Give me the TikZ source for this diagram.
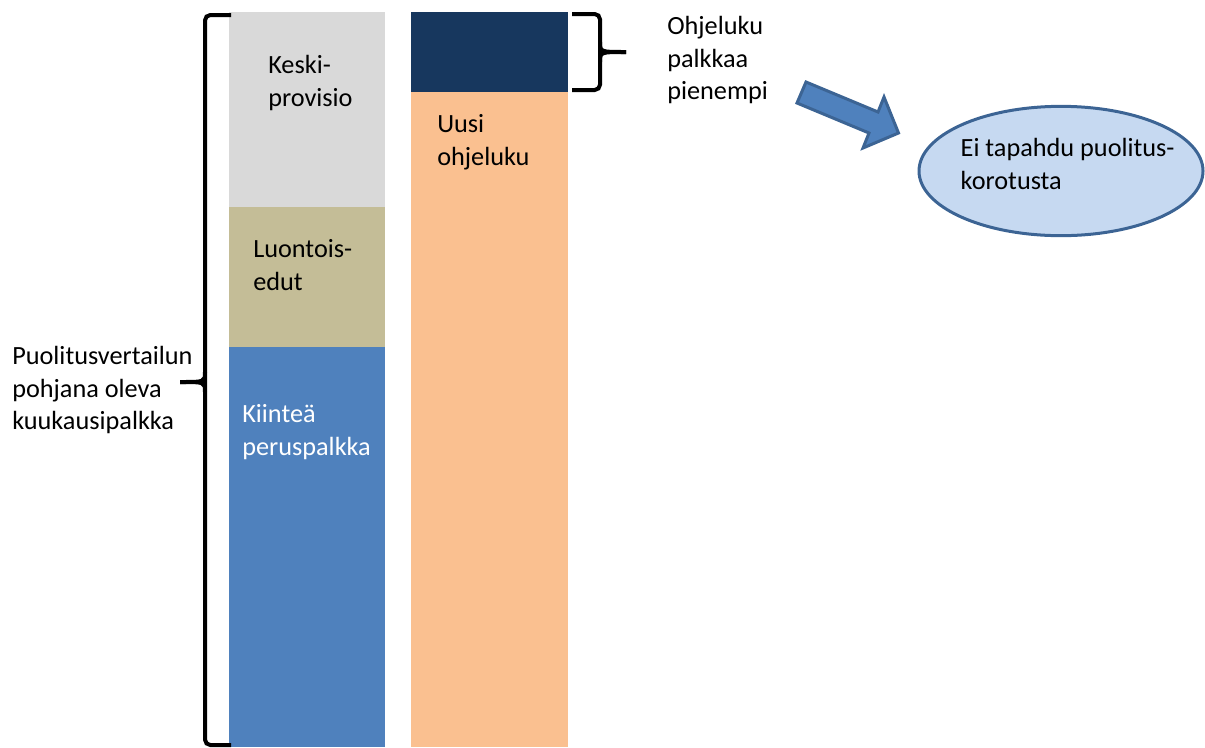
\documentclass[tikz,border=0pt]{standalone}
\usepackage{fontspec}
\setmainfont{Carlito}
\usetikzlibrary{positioning,shapes.geometric}

\definecolor{greyseg}{HTML}{D9D9D9}
\definecolor{tanseg}{HTML}{C4BD97}
\definecolor{blueseg}{HTML}{4F81BD}
\definecolor{navyseg}{HTML}{17375E}
\definecolor{peachseg}{HTML}{FAC090}
\definecolor{ovalblue}{HTML}{C6D9F1}
\definecolor{ovalline}{HTML}{3C6494}

\tikzset{%
  % Specifications for style of nodes:
         segment/.style = {rectangle, inner sep=0pt, outer sep=0pt, minimum width=117pt},
        seglabel/.style = {anchor=north west, inner sep=0pt, align=left, font=\fontsize{19.7}{24.5}\selectfont},
         outcome/.style = {ellipse, draw=ovalline, line width=2.25pt, fill=ovalblue, minimum width=213pt, minimum height=97pt, inner sep=0pt},
  % Specifications for style of lines:
         bracket/.style = {draw=black, line width=3pt},
      blockarrow/.style = {draw=ovalline, fill=blueseg, line width=2.25pt, line join=miter},
}

\begin{document}
\begin{tikzpicture}[x=0.75pt, y=-0.75pt]
    \useasboundingbox (0,0) rectangle (1205,747);

    % Draw bars
    \node (keski)    [segment, fill=greyseg, minimum height=146.25pt, anchor=north west] at (229,12) {};
    \node (luontois) [segment, fill=tanseg, minimum height=105pt, below=0pt of keski] {};
    \node (kiintea)  [segment, fill=blueseg, minimum height=300pt, below=0pt of luontois] {};
    \node (navy)     [segment, fill=navyseg, minimum width=117.75pt, minimum height=60pt, anchor=north west] at (411,12) {};
    \node (uusi)     [segment, fill=peachseg, minimum width=117.75pt, minimum height=491.25pt, below=0pt of navy] {};

    % Draw ellipse
    \node (result)      [outcome]  at (1061,171) {};

    % Draw texts
    \node (keskitxt)    [seglabel] at (268,55)  {Keski-\\provisio};
    \node (luontoistxt) [seglabel] at (253,239) {Luontois-\\edut};
    \node (kiinteatxt)  [seglabel, text=white] at (242,404) {Kiinteä\\peruspalkka};
    \node (uusitxt)     [seglabel] at (437,114) {Uusi\\ohjeluku};
    \node (vertailu)    [seglabel] at (12,346)  {Puolitusvertailun\\pohjana oleva\\kuukausipalkka};
    \node (ohjeluku)    [seglabel] at (667,16)  {Ohjeluku\\palkkaa\\pienempi};
    \node (resulttxt)   [seglabel, anchor=center] at ([xshift=5pt, yshift=5.5pt]result.center) {Ei tapahdu puolitus-\\korotusta};

    % Draw braces
    \draw[bracket, rounded corners=4pt] (231,15) -- (205,15) -- (205,745) -- (231,745);
    \draw[bracket] (205,372) .. controls (205,382) .. (180,382);
    \draw[bracket] (205,392) .. controls (205,382) .. (180,382);

    \draw[bracket, rounded corners=4pt] (572,14) -- (600,14) -- (600,90) -- (572,90);
    \draw[bracket] (600,42) .. controls (600,52) .. (626,52);
    \draw[bracket] (600,62) .. controls (600,52) .. (626,52);

    % Draw arrow
    \draw[blockarrow] (806,82) -- (878,112) -- (884,97) -- (898.5,133) -- (863,148) -- (869,133) -- (797,103) -- cycle;
\end{tikzpicture}
\end{document}
